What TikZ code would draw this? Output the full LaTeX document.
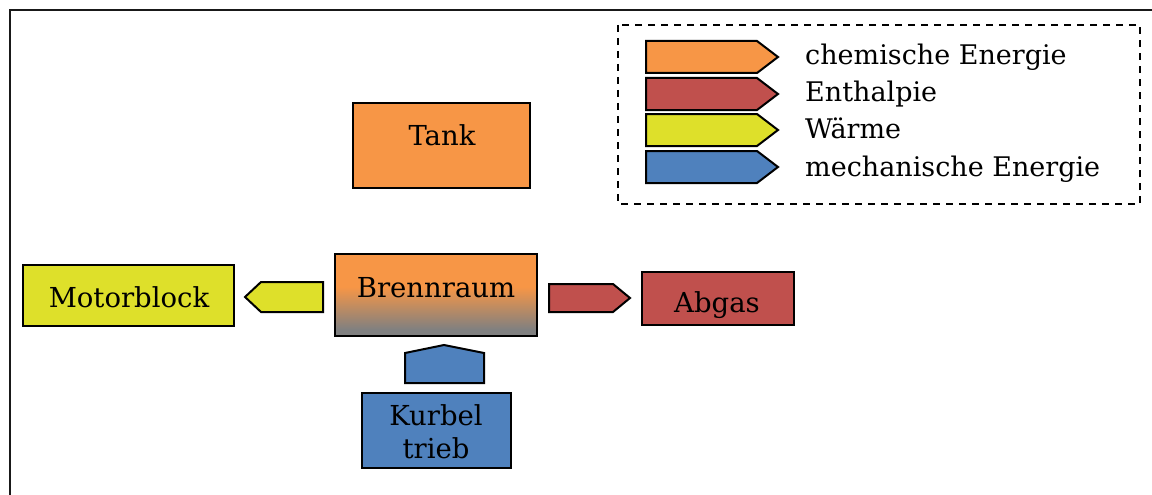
\documentclass[tikz,border=0pt]{standalone}
\usepackage{fontspec}
\setmainfont{DejaVu Serif}
\usetikzlibrary{shadings}

\definecolor{chemorange}{HTML}{F79646}
\definecolor{enthred}{HTML}{C0504D}
\definecolor{heatyellow}{RGB}{222,224,42}
\definecolor{mechblue}{HTML}{4F81BD}
\definecolor{exhaustgray}{HTML}{808080}

% combustion chamber: orange on top, fading to gray towards the bottom
\pgfdeclareverticalshading{brennshade}{100bp}{%
  color(0bp)=(exhaustgray); color(29bp)=(exhaustgray);
  color(55bp)=(chemorange); color(100bp)=(chemorange)}

\tikzset{
  frame/.style={draw=black!90, line width=2.2pt},
  legendframe/.style={draw=black, line width=2.4pt, dash pattern=on 7pt off 6pt},
  block/.style={draw=black, line width=2pt, inner sep=0pt},
  flow/.style={draw=black, line width=2pt, line join=miter},
  txt/.style={anchor=base, inner sep=0pt, font=\fontsize{27.5}{32}\selectfont},
  legtxt/.style={anchor=base west, inner sep=0pt, font=\fontsize{27}{32}\selectfont},
}

\begin{document}
\begin{tikzpicture}[x=1pt, y=-1pt]
  \useasboundingbox (0,0) rectangle (1152,495);
  \fill[white] (0,0) rectangle (1152,495);

  % outer frame (top and left edge)
  \draw[frame] (1152,10) -- (10,10) -- (10,495);

  % legend
  \draw[legendframe] (618,25) rectangle (1140,204);
  \fill[chemorange] (646,41) -- (757,41) -- (778,57) -- (757,73) -- (646,73) -- cycle;
  \draw[flow]       (646,41) -- (757,41) -- (778,57) -- (757,73) -- (646,73) -- cycle;
  \fill[enthred]    (646,78) -- (757,78) -- (778,94) -- (757,110) -- (646,110) -- cycle;
  \draw[flow]       (646,78) -- (757,78) -- (778,94) -- (757,110) -- (646,110) -- cycle;
  \fill[heatyellow] (646,114) -- (757,114) -- (778,130) -- (757,146) -- (646,146) -- cycle;
  \draw[flow]       (646,114) -- (757,114) -- (778,130) -- (757,146) -- (646,146) -- cycle;
  \fill[mechblue]   (646,151) -- (757,151) -- (778,167) -- (757,183) -- (646,183) -- cycle;
  \draw[flow]       (646,151) -- (757,151) -- (778,167) -- (757,183) -- (646,183) -- cycle;
  \node[legtxt] (lchem) at (805,65)  {chemische Energie};
  \node[legtxt] (lenth) at (805,102) {Enthalpie};
  \node[legtxt] (lheat) at (805,139) {Wärme};
  \node[legtxt] (lmech) at (805,176) {mechanische Energie};

  % components
  \node[block, fill=chemorange, minimum width=177pt, minimum height=85pt] (tank) at (441.5,145.5) {};
  \node[txt] (tanktext) at (442,146) {Tank};

  \node[block, shading=brennshade, minimum width=202pt, minimum height=82pt] (brenn) at (436,295) {};
  \node[txt] (brenntext) at (436,297) {Brennraum};

  \node[block, fill=heatyellow, minimum width=211pt, minimum height=61pt] (motor) at (128.5,295.5) {};
  \node[txt] (motortext) at (129,307) {Motorblock};

  \node[block, fill=enthred, minimum width=152pt, minimum height=53pt] (abgas) at (718,298.5) {};
  \node[txt] (abgastext) at (717,312) {Abgas};

  \node[block, fill=mechblue, minimum width=149pt, minimum height=75pt] (kurbel) at (436.5,430.5) {};
  \node[txt] (kurbeltext) at (436,425) {Kurbel};
  \node[txt] (triebtext) at (436,458) {trieb};

  % energy flows between the components
  \fill[heatyellow] (323,282) -- (261,282) -- (245,297) -- (261,312) -- (323,312) -- cycle;
  \draw[flow]       (323,282) -- (261,282) -- (245,297) -- (261,312) -- (323,312) -- cycle;
  \fill[enthred]    (549,284) -- (613,284) -- (630,298) -- (613,312) -- (549,312) -- cycle;
  \draw[flow]       (549,284) -- (613,284) -- (630,298) -- (613,312) -- (549,312) -- cycle;
  \fill[mechblue]   (405,383) -- (405,353) -- (444,345) -- (484,353) -- (484,383) -- cycle;
  \draw[flow]       (405,383) -- (405,353) -- (444,345) -- (484,353) -- (484,383) -- cycle;
\end{tikzpicture}
\end{document}
